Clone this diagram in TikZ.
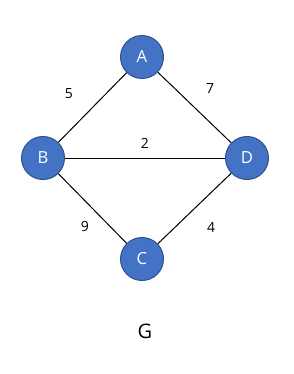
\documentclass[tikz,border=0pt]{standalone}
\usepackage{fontspec}
\setmainfont{Open Sans}
\definecolor{nodefill}{HTML}{4472C4}
\definecolor{nodeline}{HTML}{2F528F}
\begin{document}
\begin{tikzpicture}[x=0.75pt,y=-0.75pt,
  vertex/.style={circle,fill=nodefill,draw=nodeline,line width=0.75pt,minimum size=32.25pt,inner sep=0pt,text=white,font=\fontsize{12.5}{14}\selectfont},
  edge/.style={draw=black,line width=0.75pt},
  wlabel/.style={font=\fontsize{10.5}{12}\selectfont,text=black}]
\useasboundingbox (0,0) rectangle (293,374);
\fill[white] (0,0) rectangle (293,374);
\node[vertex] (A) at (142,57) {A};
\node[vertex] (B) at (43,158) {B};
\node[vertex] (D) at (247,158) {D};
\node[vertex] (C) at (142,259) {C};
\draw[edge] (A) -- (B);
\draw[edge] (A) -- (D);
\draw[edge] (B) -- (D);
\draw[edge] (B) -- (C);
\draw[edge] (C) -- (D);
\node[wlabel] (l5) at (69,94) {5};
\node[wlabel] (l7) at (210,89) {7};
\node[wlabel] (l2) at (145,143) {2};
\node[wlabel] (l9) at (85,226) {9};
\node[wlabel] (l4) at (211,227) {4};
\node[font=\fontsize{15}{18}\selectfont] (G) at (145,331) {G};
\end{tikzpicture}
\end{document}
